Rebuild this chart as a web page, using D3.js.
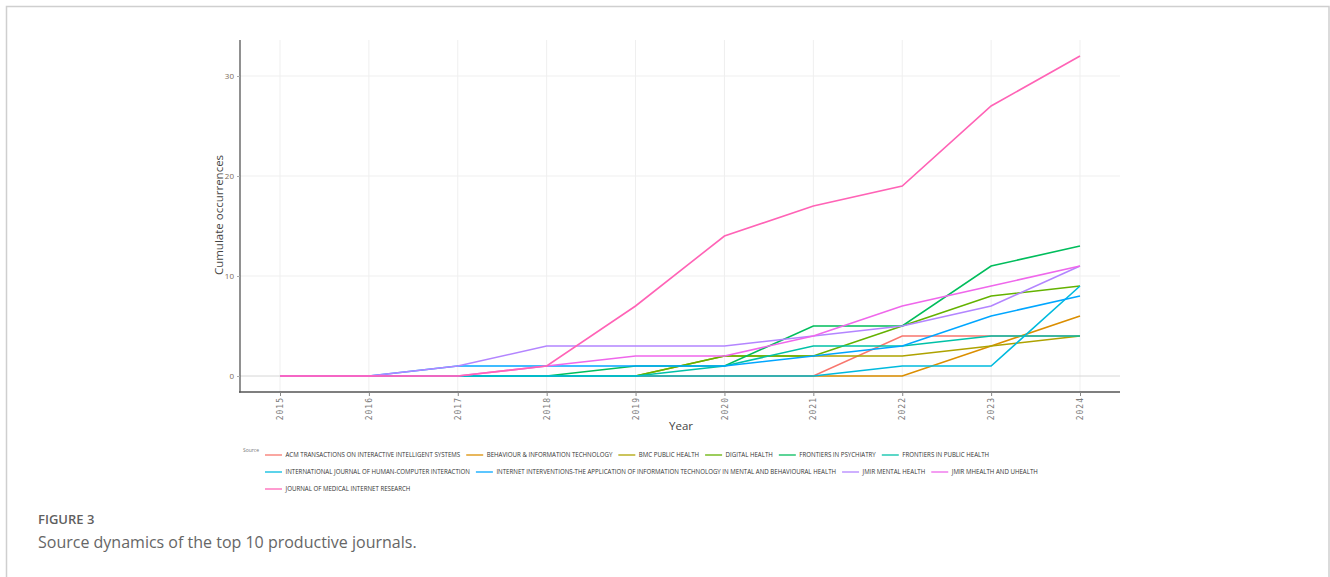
<!DOCTYPE html>
<html>
<head>
<meta charset="utf-8">
<script src="https://cdn.jsdelivr.net/npm/d3@7"></script>
<style>
  body { margin: 0; background: #fff; }
  svg { display: block; }
</style>
</head>
<body>
<div id="chart"></div>
<script>
// years on the x axis
var years = [2015, 2016, 2017, 2018, 2019, 2020, 2021, 2022, 2023, 2024]

var sources = [
  "ACM TRANSACTIONS ON INTERACTIVE INTELLIGENT SYSTEMS",
  "BEHAVIOUR & INFORMATION TECHNOLOGY",
  "BMC PUBLIC HEALTH",
  "DIGITAL HEALTH",
  "FRONTIERS IN PSYCHIATRY",
  "FRONTIERS IN PUBLIC HEALTH",
  "INTERNATIONAL JOURNAL OF HUMAN-COMPUTER INTERACTION",
  "INTERNET INTERVENTIONS-THE APPLICATION OF INFORMATION TECHNOLOGY IN MENTAL AND BEHAVIOURAL HEALTH",
  "JMIR MENTAL HEALTH",
  "JMIR MHEALTH AND UHEALTH",
  "JOURNAL OF MEDICAL INTERNET RESEARCH"
]

// cumulative occurrences per source, one value per year
var acm          = [0, 0, 0, 0, 0, 0, 0, 4, 4, 4]
var behaviour    = [0, 0, 0, 0, 0, 0, 0, 0, 3, 6]
var bmc          = [0, 0, 0, 0, 0, 2, 2, 2, 3, 4]
var digital      = [0, 0, 0, 0, 0, 2, 2, 5, 8, 9]
var frontPsych   = [0, 0, 0, 0, 1, 1, 5, 5, 11, 13]
var frontPublic  = [0, 0, 0, 0, 0, 1, 3, 3, 4, 4]
var ijhci        = [0, 0, 0, 0, 0, 0, 0, 1, 1, 9]
var internetInt  = [0, 0, 1, 1, 1, 1, 2, 3, 6, 8]
var jmirMental   = [0, 0, 1, 3, 3, 3, 4, 5, 7, 11]
var jmirMhealth  = [0, 0, 0, 1, 2, 2, 4, 7, 9, 11]
var jmir         = [0, 0, 0, 1, 7, 14, 17, 19, 27, 32]

var yTicks = [0, 10, 20, 30]

var colors = ["#F8766D", "#DB8E00", "#AEA200", "#64B200", "#00BD5C", "#00C1A7",
              "#00BADE", "#00A6FF", "#B385FF", "#EF67EB", "#FF63B6"]

var series = [acm, behaviour, bmc, digital, frontPsych, frontPublic,
              ijhci, internetInt, jmirMental, jmirMhealth, jmir]

var W = 1330, H = 577
var svg = d3.select("#chart").append("svg")
    .attr("width", W)
    .attr("height", H)

// figure frame
svg.append("rect")
    .attr("x", 6.5).attr("y", 6.5)
    .attr("width", 1322.5).attr("height", 700)
    .attr("fill", "none")
    .attr("stroke", "#cfcfcf")
    .attr("stroke-width", 1.5)

var panel = {left: 240, right: 1120, top: 40, bottom: 392}

var x = d3.scaleLinear()
    .domain([2014.55, 2024.45])
    .range([panel.left, panel.right])

var yMax = d3.max(series, function(s){ return d3.max(s) })
var y = d3.scaleLinear()
    .domain([-yMax * 0.05, yMax * 1.05])
    .range([panel.bottom, panel.top])

var g = svg.append("g")

// grid
g.selectAll(".vgrid").data(years).enter().append("line")
    .attr("x1", function(d){ return x(d) }).attr("x2", function(d){ return x(d) })
    .attr("y1", panel.top).attr("y2", panel.bottom)
    .attr("stroke", "#efefef").attr("stroke-width", 1)

g.selectAll(".hgrid").data(yTicks).enter().append("line")
    .attr("x1", panel.left).attr("x2", panel.right)
    .attr("y1", function(d){ return y(d) }).attr("y2", function(d){ return y(d) })
    .attr("stroke", function(d){ return d === 0 ? "#d6d6d6" : "#efefef" })
    .attr("stroke-width", 1)

// lines
var line = d3.line()
    .x(function(d, i){ return x(years[i]) })
    .y(function(d){ return y(d) })

g.selectAll(".series").data(series).enter().append("path")
    .attr("d", line)
    .attr("fill", "none")
    .attr("stroke", function(d, i){ return colors[i] })
    .attr("stroke-width", 1.6)

// axes
var xAxis = d3.axisBottom(x).tickValues(years).tickSize(4).tickFormat(d3.format("d"))
var gx = svg.append("g")
    .attr("transform", "translate(0," + panel.bottom + ")")
    .call(xAxis)
gx.select(".domain").attr("d", "M" + (panel.left - 1) + ",0H" + panel.right)
    .attr("stroke", "#555").attr("stroke-width", 1.3)
gx.selectAll(".tick line").attr("stroke", "#888")
gx.selectAll(".tick text")
    .attr("transform", "rotate(-90)")
    .attr("x", -5).attr("y", 0).attr("dy", "0.32em")
    .attr("text-anchor", "end")
    .attr("fill", "#7a7a7a")
    .style("font-family", "DejaVu Sans Mono")
    .style("font-size", "8px")
    .style("letter-spacing", "1px")

var yAxis = d3.axisLeft(y).tickValues(yTicks).tickSize(3)
var gy = svg.append("g")
    .attr("transform", "translate(" + panel.left + ",0)")
    .call(yAxis)
gy.select(".domain").attr("d", "M0," + panel.top + "V" + (panel.bottom + 0.5))
    .attr("stroke", "#555").attr("stroke-width", 1.3)
gy.selectAll(".tick line").attr("stroke", "#aaa")
gy.selectAll(".tick text")
    .attr("fill", "#7a6a5a")
    .style("font-family", "Open Sans")
    .style("font-size", "8px")

// axis titles
svg.append("text")
    .attr("x", (panel.left + panel.right) / 2 + 1).attr("y", 430)
    .attr("text-anchor", "middle")
    .attr("fill", "#444")
    .style("font-family", "Open Sans")
    .style("font-size", "11.5px")
    .text("Year")

svg.append("text")
    .attr("transform", "translate(223," + ((panel.top + panel.bottom) / 2 - 1) + ") rotate(-90)")
    .attr("text-anchor", "middle")
    .attr("fill", "#444")
    .style("font-family", "Open Sans")
    .style("font-size", "11.5px")
    .text("Cumulate occurrences")

// legend
var legend = svg.append("g")
legend.append("text")
    .attr("x", 243).attr("y", 452)
    .attr("fill", "#777")
    .style("font-family", "Open Sans")
    .style("font-size", "5px")
    .text("Source")

var lx = 265, ly = 455, rowH = 17, maxRight = 1140
sources.forEach(function(name, i){
  var item = legend.append("g")
  var t = item.append("text")
      .attr("y", 2.3)
      .attr("fill", "#333")
      .style("font-family", "Open Sans")
      .style("font-size", "6.2px")
      .text(name)
  var w = t.node().getComputedTextLength() * 0.99
  t.attr("textLength", w).attr("lengthAdjust", "spacingAndGlyphs")
  var itemW = 17 + 3.5 + w
  if (lx + itemW > maxRight) { lx = 265; ly += rowH }
  item.attr("transform", "translate(" + lx + "," + ly + ")")
  item.append("line")
      .attr("x1", 0).attr("x2", 17)
      .attr("stroke", colors[i]).attr("stroke-width", 1.6)
      .attr("stroke-opacity", 0.8)
  t.attr("x", 20.5)
  lx += itemW + 6
})

// caption
svg.append("text")
    .attr("x", 38).attr("y", 524)
    .attr("fill", "#5f5f5f")
    .style("font-family", "Open Sans")
    .style("font-weight", "600")
    .style("font-size", "13px")
    .text("FIGURE 3")

svg.append("text")
    .attr("x", 38).attr("y", 548)
    .attr("fill", "#666")
    .style("font-family", "Open Sans")
    .style("font-size", "16px")
    .text("Source dynamics of the top 10 productive journals.")
</script>
</body>
</html>
